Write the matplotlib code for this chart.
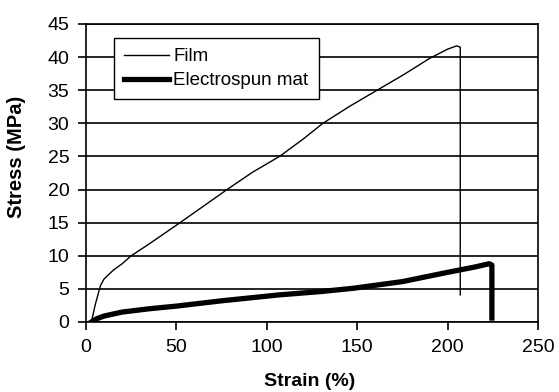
import matplotlib
matplotlib.use("Agg")
import matplotlib.pyplot as plt

film_strain = [3, 5, 8, 10, 15, 20, 25, 35, 52, 65, 78, 92, 107, 120, 131, 146, 161, 176, 190, 200, 205, 207, 207]
film_stress = [0, 2.5, 5.5, 6.5, 7.8, 8.8, 10, 11.8, 15, 17.5, 20, 22.6, 25, 27.6, 30, 32.6, 35, 37.4, 39.8, 41.2, 41.7, 41.5, 4.1]

mat_strain = [3, 6, 10, 20, 35, 50, 75, 107, 130, 148, 175, 200, 215, 223, 224.5, 224.5]
mat_stress = [0, 0.5, 0.9, 1.5, 2.0, 2.4, 3.2, 4.1, 4.6, 5.1, 6.1, 7.5, 8.3, 8.8, 8.6, 0.6]

xticks = [0, 50, 100, 150, 200, 250]
yticks = [0, 5, 10, 15, 20, 25, 30, 35, 40, 45]

plt.rcParams['font.family'] = ['Liberation Sans', 'DejaVu Sans']

fig = plt.figure(figsize=(5.59, 3.92), dpi=100)
ax = fig.add_axes([86/559, 1-322/392, (538-86)/559, (322-24)/392])

ax.plot(film_strain, film_stress, color='black', lw=1.0, label='Film')
ax.plot(mat_strain, mat_stress, color='black', lw=3.8, label='Electrospun mat')

ax.set_xlim(0, 250)
ax.set_ylim(0, 45)
ax.set_xticks(xticks)
ax.set_yticks(yticks)
ax.yaxis.grid(True, color='black', lw=1.2)
ax.set_axisbelow(True)
for s in ax.spines.values():
    s.set_color('black')
    s.set_linewidth(1.2)
ax.tick_params(axis='both', direction='out', length=6, width=1.2, labelsize=14, colors='black')
ax.tick_params(axis='y', pad=6)
ax.tick_params(axis='x', pad=6)
ax.set_xlabel('Strain (%)', fontsize=14, fontweight='bold', va='center')
ax.set_ylabel('Stress (MPa)', fontsize=14.5, fontweight='bold', va='center')
ax.xaxis.set_label_coords(0.5 + (310 - 312)/452, (322-381)/298)
ax.yaxis.set_label_coords((17-86)/452, (322-157)/298)

leg = ax.legend(loc='upper left', bbox_to_anchor=((114-86)/452, 1-(38-24)/298), fontsize=13.5,
                frameon=True, fancybox=False, handlelength=2.4, handletextpad=0.2,
                borderpad=0.55, labelspacing=0.35, borderaxespad=0)
leg.get_frame().set_edgecolor('black')
leg.get_frame().set_linewidth(1.0)
leg.get_frame().set_alpha(1)

fig.savefig('out.png', dpi=100)
